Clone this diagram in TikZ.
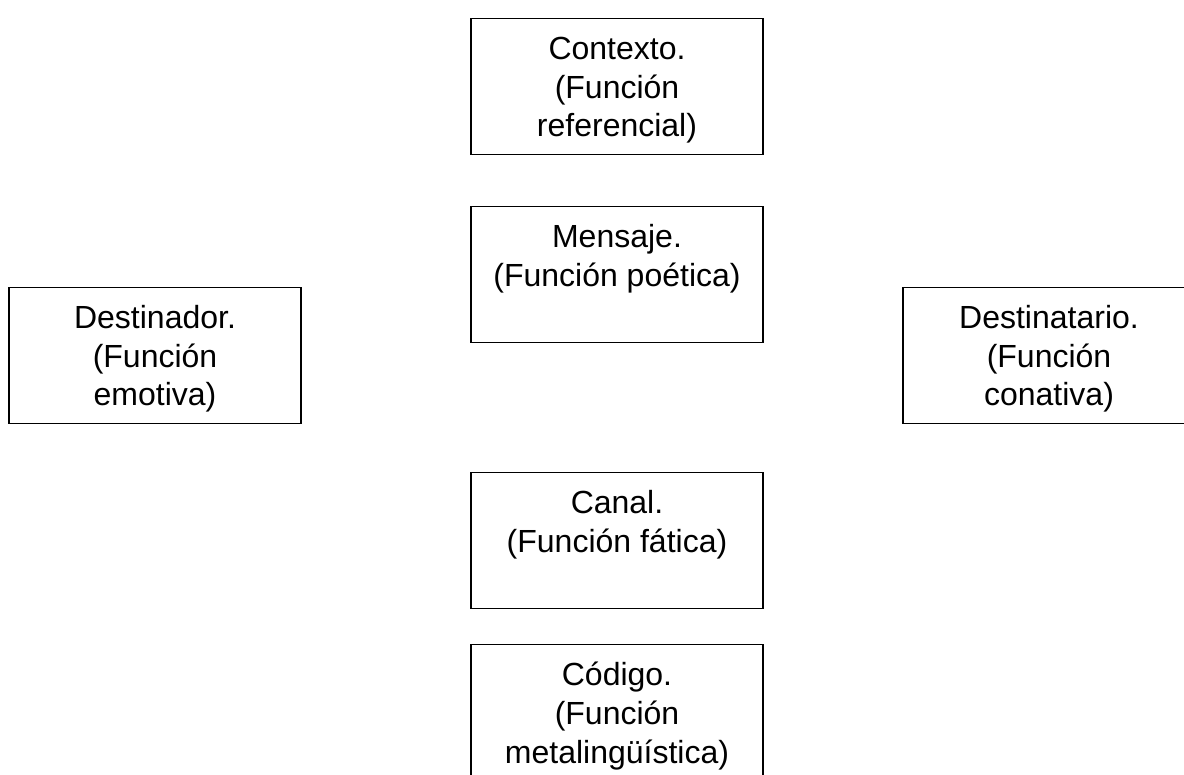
\documentclass[tikz,border=0pt]{standalone}
\usepackage{fontspec}
\setmainfont{Liberation Sans}
\usepackage{tikz}

\newcommand{\funcfont}{\fontsize{16}{19.35}\selectfont}
% fixed box, text set from the top
\newcommand{\ftext}[1]{\parbox[c][68pt][t]{146pt}{\centering\rule{0pt}{20.5pt}#1}}

\begin{document}
\begin{tikzpicture}[x=0.5pt,y=-0.5pt,
        font=\funcfont,
        funcion/.style={draw,rectangle,line width=0.6pt,inner sep=0pt,anchor=north}]

    \clip (0,0) rectangle (1184,775);

    \node[funcion] (contexto) at (617,18) {\ftext{Contexto.\\(Función\\referencial)}};
    \node[funcion] (mensaje) at (617,206) {\ftext{Mensaje.\\(Función poética)}};
    \node[funcion] (destinador) at (155,287) {\ftext{Destinador.\\(Función\\emotiva)}};
    \node[funcion] (destinatario) at (1049,287) {\ftext{Destinatario.\\(Función\\conativa)}};
    \node[funcion] (canal) at (617,472) {\ftext{Canal.\\(Función fática)}};
    \node[funcion] (codigo) at (617,644) {\ftext{Código.\\(Función\\metalingüística)}};
\end{tikzpicture}
\end{document}
